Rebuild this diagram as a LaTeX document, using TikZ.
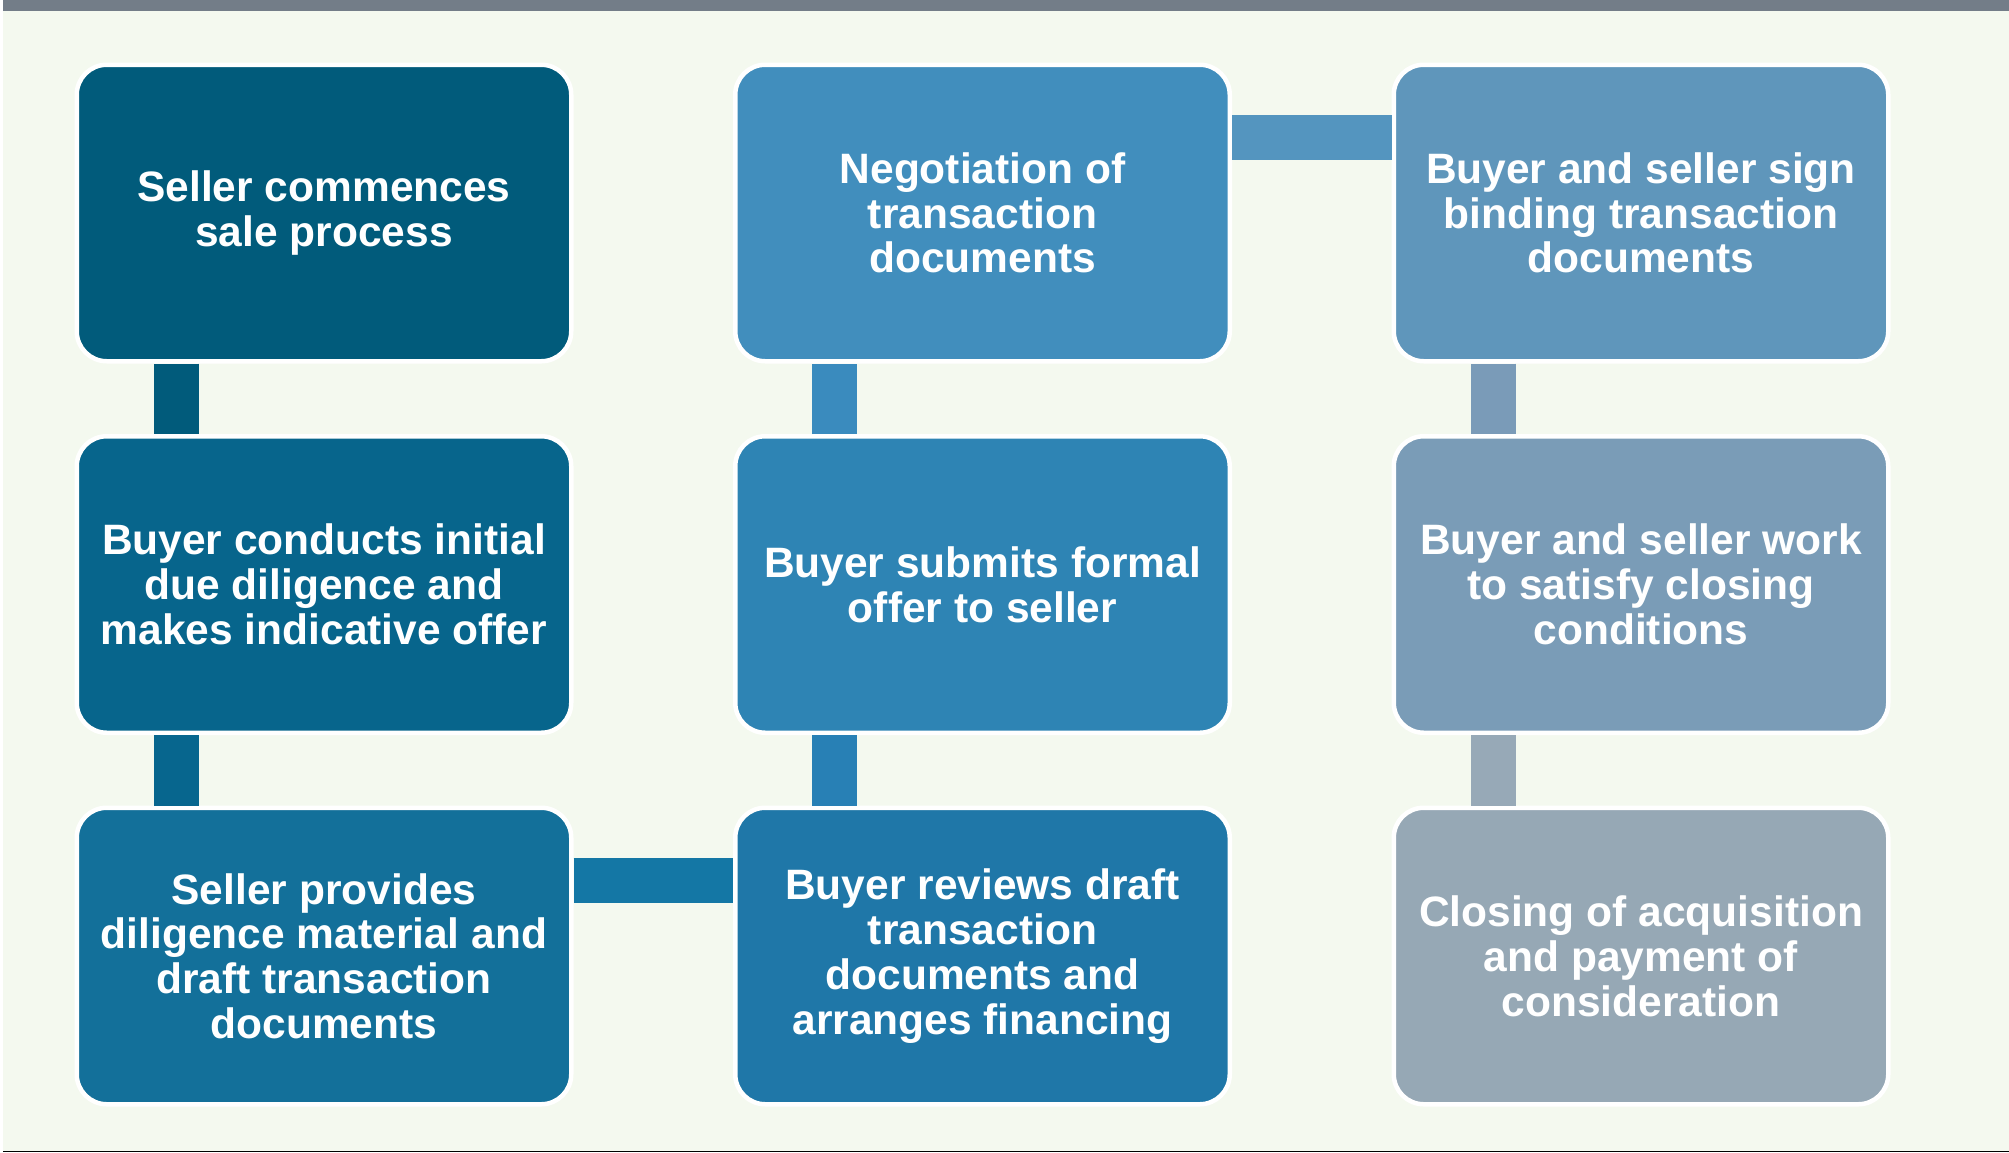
\documentclass[tikz,border=0pt]{standalone}
\usepackage{fontspec}
\setmainfont{Liberation Sans}

% palette, darkest to lightest step
\definecolor{pagebg}{HTML}{F4F9EF}
\definecolor{topbar}{HTML}{737D88}
\definecolor{baseline}{HTML}{D2D4D0}
\definecolor{sA}{HTML}{015B7B}
\definecolor{sB}{HTML}{07658C}
\definecolor{sC}{HTML}{13709A}
\definecolor{sD}{HTML}{1F77A8}
\definecolor{sE}{HTML}{2E84B4}
\definecolor{sF}{HTML}{418EBD}
\definecolor{sG}{HTML}{5F96BB}
\definecolor{sH}{HTML}{7A9CB7}
\definecolor{sI}{HTML}{96A8B5}
\definecolor{lAB}{HTML}{015B7B}
\definecolor{lBC}{HTML}{07668E}
\definecolor{lCD}{HTML}{1477A5}
\definecolor{lDE}{HTML}{2880B5}
\definecolor{lEF}{HTML}{3A8BBE}
\definecolor{lFG}{HTML}{5495BF}
\definecolor{lGH}{HTML}{7A9BB8}
\definecolor{lHI}{HTML}{97A9B7}

\begin{document}
\begin{tikzpicture}[x=1pt,y=-1pt,
  stage/.style={draw=white, line width=4.5pt, rounded corners=30pt,
    minimum width=494.5pt, minimum height=296.5pt, inner sep=0pt,
    align=center, text=white,
    font=\fontsize{42.5}{44.8}\selectfont\bfseries},
  link/.style={line width=45pt}]

% page
\useasboundingbox (0,0) rectangle (2009,1152);
\fill[pagebg] (0,0) rectangle (2009,1152);
\fill[white] (0,0) rectangle (3,1152);
\fill[topbar] (3,0) rectangle (2009,11);
\fill[baseline] (3,1150.5) rectangle (2009,1152);

% process steps (column by column)
\node[stage, fill=sA] (s1) at (324,213)    {Seller commences\\sale process};
\node[stage, fill=sB] (s2) at (324,584.5)  {Buyer conducts initial\\due diligence and\\makes indicative offer};
\node[stage, fill=sC] (s3) at (324,956)    {Seller provides\\diligence material and\\draft transaction\\documents};
\node[stage, fill=sD] (s4) at (982.5,956)  {Buyer reviews draft\\transaction\\documents and\\arranges financing};
\node[stage, fill=sE] (s5) at (982.5,584.5){Buyer submits formal\\offer to seller};
\node[stage, fill=sF] (s6) at (982.5,213)  {Negotiation of\\transaction\\documents};
\node[stage, fill=sG] (s7) at (1641,213)   {Buyer and seller sign\\binding transaction\\documents};
\node[stage, fill=sH] (s8) at (1641,584.5) {Buyer and seller work\\to satisfy closing\\conditions};
\node[stage, fill=sI] (s9) at (1641,956)   {Closing of acquisition\\and payment of\\consideration};

% bars joining consecutive steps
\draw[link, lAB] ([xshift=-148pt]s1.south) -- ([xshift=-148pt]s2.north);
\draw[link, lBC] ([xshift=-148pt]s2.south) -- ([xshift=-148pt]s3.north);
\draw[link, lCD] ([yshift=76pt]s3.east) -- ([yshift=76pt]s4.west);
\draw[link, lDE] ([xshift=-148pt]s4.north) -- ([xshift=-148pt]s5.south);
\draw[link, lEF] ([xshift=-148pt]s5.north) -- ([xshift=-148pt]s6.south);
\draw[link, lFG] ([yshift=76pt]s6.east) -- ([yshift=76pt]s7.west);
\draw[link, lGH] ([xshift=-148pt]s7.south) -- ([xshift=-148pt]s8.north);
\draw[link, lHI] ([xshift=-148pt]s8.south) -- ([xshift=-148pt]s9.north);
\end{tikzpicture}
\end{document}
